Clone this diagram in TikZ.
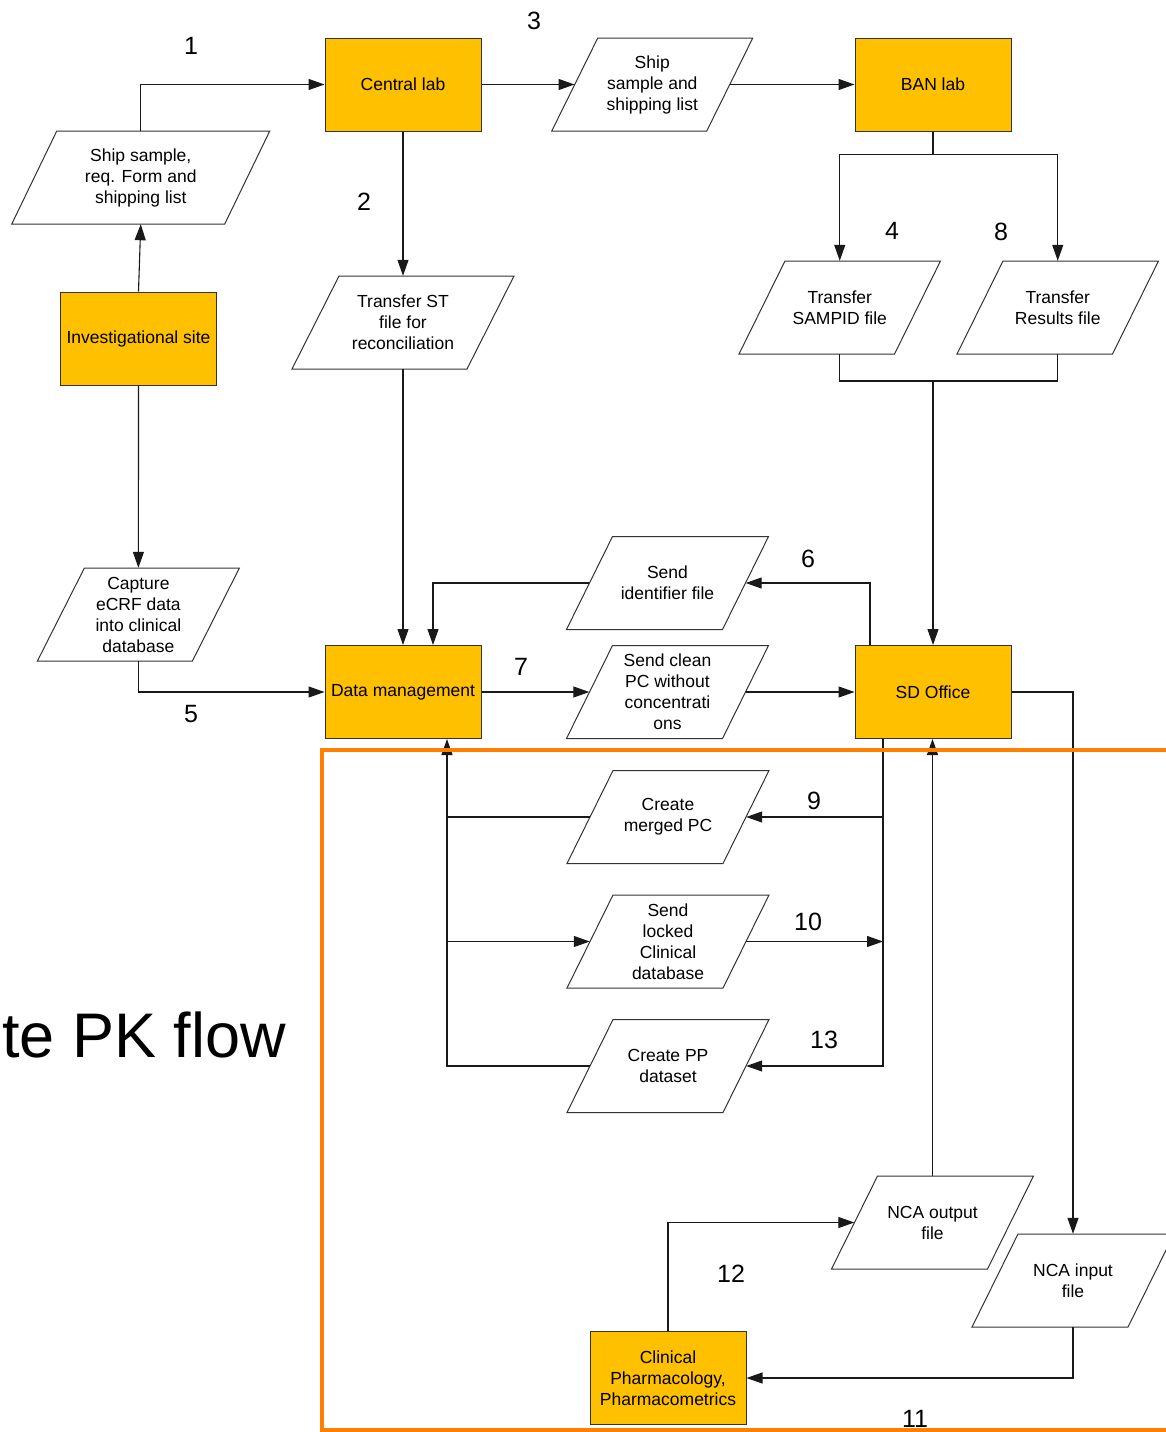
\documentclass[tikz,border=0pt]{standalone}
\usepackage{fontspec}
\setmainfont{Liberation Sans}
\usetikzlibrary{arrows.meta,calc}
\definecolor{boxfill}{RGB}{255,192,0}
\definecolor{frameorange}{RGB}{255,128,0}
\newcommand\bodyfont{\fontsize{17.5}{21}\selectfont}
% name, x, y, width, half skew, text
\newcommand\mypara[6]{%
  \filldraw[parabord] ({#2-#4/2-#5},{#3+46.5}) -- ({#2+#4/2-#5},{#3+46.5})
     -- ({#2+#4/2+#5},{#3-46.5}) -- ({#2-#4/2+#5},{#3-46.5}) -- cycle;
  \node[paratext, minimum width=#4pt] (#1) at (#2,#3) {#6};
}
\begin{document}
\begin{tikzpicture}[x=1pt,y=-1pt,
  box/.style={draw=black!80, line width=1pt, fill=boxfill, minimum width=156pt, minimum height=93pt,
    inner sep=0pt, align=center, font=\bodyfont},
  parabord/.style={draw=black!80, line width=1pt, fill=white},
  paratext/.style={minimum height=93pt, inner sep=0pt, align=center, font=\bodyfont},
  conn/.style={draw=black!90, line width=1.1pt},
  arr/.style={conn, -{Triangle[length=16pt,width=11pt]}},
  num/.style={inner sep=0pt, font=\fontsize{25}{28}\selectfont}]
\useasboundingbox (0,0) rectangle (1166,1432);
\clip (0,0) rectangle (1166,1432);
\fill[white] (0,0) rectangle (1166,1432);

% boxes
\node[box] (central) at (403,84.5) {Central lab};
\node[box] (ban) at (933,84.5) {BAN lab};
\node[box] (inv) at (138.5,338.5) {Investigational site};
\node[box] (dm) at (403,692) {Data management};
\node[box] (sd) at (933,692) {SD Office};
\node[box] (cp) at (668,1378) {Clinical\\Pharmacology,\\Pharmacometrics};

% parallelograms
\mypara{ship1}{140.75}{177.5}{213}{22.5}{Ship sample,\\req. Form and\\shipping list}
\mypara{ship2}{652.25}{84.5}{155}{23}{Ship\\sample and\\shipping list}
\mypara{transST}{403}{322.5}{175}{23.5}{Transfer ST\\file for\\reconciliation}
\mypara{capture}{138.4}{614.5}{155}{23.5}{Capture\\eCRF data\\into clinical\\database}
\mypara{sampid}{839.75}{307.5}{155.5}{23}{Transfer\\SAMPID file}
\mypara{results}{1057.75}{307.5}{155.5}{23}{Transfer\\Results file}
\mypara{sendid}{667.5}{583}{156}{23}{Send\\identifier file}
\mypara{sendclean}{667.5}{692}{156}{23}{Send clean\\PC without\\concentrati\\ons}
\mypara{merged}{668}{817}{156}{23}{Create\\merged PC}
\mypara{locked}{668}{941.5}{156}{23}{Send\\locked\\Clinical\\database}
\mypara{createPP}{668}{1066}{156}{23}{Create PP\\dataset}
\mypara{ncaout}{932.5}{1222.5}{156}{23}{NCA output\\file}
\mypara{ncain}{1073}{1280.5}{156}{23}{NCA input\\file}

% junction coordinates
\coordinate (sdj) at (933,381);
\coordinate (rj) at (883,1066);
\coordinate (lj) at (447,1066);

% connectors
\draw[arr] (inv.north) -- (ship1.south);
\draw[arr] (ship1.north) |- (central.west);
\draw[arr] (central.east) -- (ship2.west);
\draw[arr] (ship2.east) -- (ban.west);
\draw[arr] (central.south) -- (transST.north);
\draw[arr] (transST.south) -- (dm.north);
\draw[conn] (ban.south) -- ++(0,23) coordinate (banj);
\draw[arr] (banj) -| (sampid.north);
\draw[arr] (banj) -| (results.north);
\draw[conn] (sampid.south) |- (sdj) -| (results.south);
\draw[arr] (sdj) -- (sd.north);
\draw[arr] ([xshift=-63pt]sd.north) |- (sendid.east);
\draw[arr] (sendid.west) -| ([xshift=30pt]dm.north);
\draw[arr] (inv.south) -- (capture.north);
\draw[arr] (capture.south) |- (dm.west);
\draw[arr] (dm.east) -- (sendclean.west);
\draw[arr] (sendclean.east) -- (sd.west);
\draw[arr] ([xshift=-50pt]sd.south) |- (createPP.east);
\draw[arr] (merged.east -| rj) -- (merged.east);
\draw[arr] (locked.east) -- (locked.east -| rj);
\draw[arr] (createPP.west) -| ([xshift=44pt]dm.south);
\draw[conn] (merged.west) -- (merged.west -| lj);
\draw[arr] (locked.west -| lj) -- (locked.west);
\draw[arr] (sd.east) -| (ncain.north);
\draw[arr] (ncain.south) |- (cp.east);
\draw[arr] (cp.north) |- (ncaout.west);
\draw[arr] (ncaout.north) -- (ncaout.north |- sd.south);

% step numbers
\node[num] (n1) at (191,46) {1};
\node[num] (n2) at (364,202) {2};
\node[num] (n3) at (534,21) {3};
\node[num] (n4) at (892,231) {4};
\node[num] (n8) at (1001,232) {8};
\node[num] (n5) at (191,714) {5};
\node[num] (n7) at (521,667) {7};
\node[num] (n6) at (808,559) {6};
\node[num] (n9) at (814,801) {9};
\node[num] (n10) at (808,922) {10};
\node[num] (n13) at (824,1040) {13};
\node[num] (n12) at (731,1274) {12};
\node[num] (n11) at (915,1419) {11};

% title fragment
\node[anchor=base west, inner sep=0pt, font=\fontsize{63}{70}\selectfont] (title) at (2,1057) {te PK flow};

% orange frame
\draw[frameorange, line width=4pt] (322,750) rectangle (1200,1430);
\end{tikzpicture}
\end{document}
